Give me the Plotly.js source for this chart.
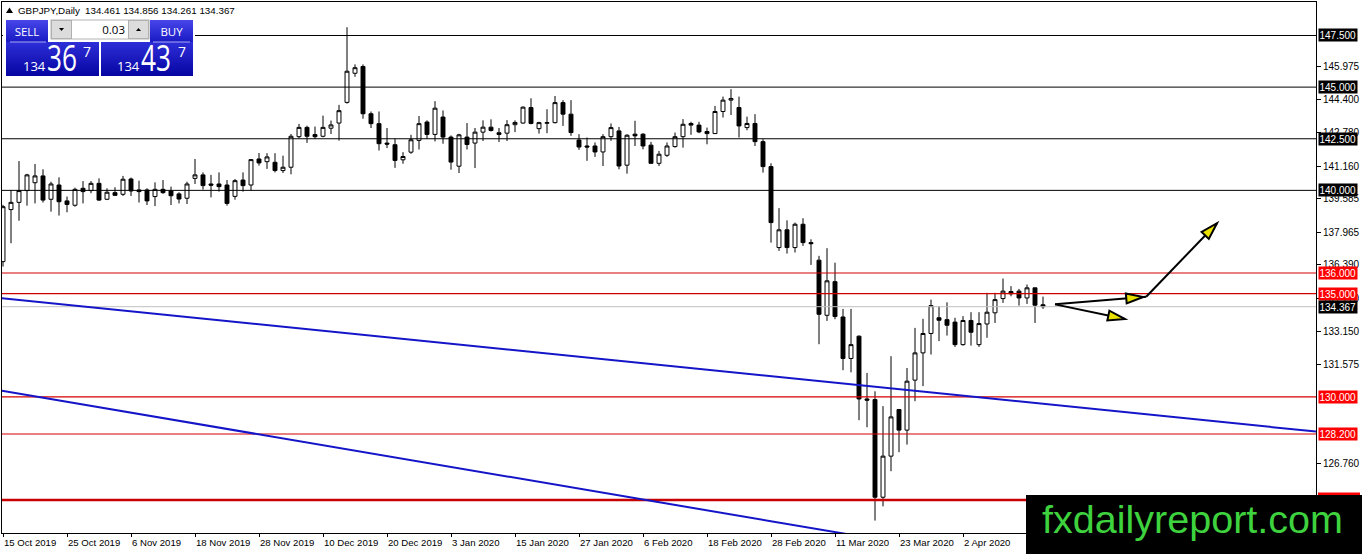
<!DOCTYPE html>
<html>
<head>
<meta charset="utf-8">
<script src="https://cdn.plot.ly/plotly-3.0.1.min.js"></script>
<style>
html,body{margin:0;padding:0;background:#fff;}
#wrap{position:relative;width:1362px;height:554px;overflow:hidden;}
#chart{position:absolute;left:0;top:0;width:1362px;height:554px;}
#over{position:absolute;left:0;top:0;pointer-events:none;}
</style>
</head>
<body>
<div id="wrap">
<div id="chart"></div>
<svg id="over" width="1362" height="554" xmlns="http://www.w3.org/2000/svg">
  <defs>
    <linearGradient id="blueBtn" x1="0" y1="0" x2="0" y2="1">
      <stop offset="0" stop-color="#4646ea"/>
      <stop offset="1" stop-color="#1a1ac4"/>
    </linearGradient>
    <linearGradient id="bluePanel" x1="0" y1="0" x2="0" y2="1">
      <stop offset="0" stop-color="#2e2ed8"/>
      <stop offset="1" stop-color="#0505a2"/>
    </linearGradient>
  </defs>
  <!-- header -->
  <rect x="3" y="3" width="240" height="15" fill="#fff"/>
  <polygon points="6,13 9.5,7.5 13,13" fill="#000"/>
  <text x="18" y="14" font-family="Liberation Sans, Arial, sans-serif" font-size="9.8" fill="#000">GBPJPY,Daily</text>
  <text x="85" y="14" font-family="Liberation Sans, Arial, sans-serif" font-size="9.8" fill="#000">134.461 134.856 134.261 134.367</text>
  <!-- trade widget -->
  <rect x="3" y="18" width="192" height="60" fill="#fff"/>
  <rect x="6" y="20" width="42" height="22" fill="url(#blueBtn)"/>
  <text x="27" y="35.5" text-anchor="middle" font-family="Open Sans, sans-serif" font-size="11.5" fill="#fff">SELL</text>
  <rect x="51" y="20" width="98" height="19" fill="#fff" stroke="#b4b4b4" stroke-width="1"/>
  <rect x="51.5" y="20.5" width="20" height="18" fill="#dcdcdc" stroke="#b0b0b0" stroke-width="1"/>
  <polygon points="59,28 64,28 61.5,31" fill="#000"/>
  <text x="125" y="34" text-anchor="end" font-family="Open Sans, sans-serif" font-size="11.5" fill="#000">0.03</text>
  <rect x="128.5" y="20.5" width="20" height="18" fill="#dcdcdc" stroke="#b0b0b0" stroke-width="1"/>
  <polygon points="136,31 141,31 138.5,28" fill="#000"/>
  <rect x="150" y="20" width="43" height="22" fill="url(#blueBtn)"/>
  <text x="171.5" y="35.5" text-anchor="middle" font-family="Open Sans, sans-serif" font-size="11.5" fill="#fff">BUY</text>
  <rect x="6" y="42" width="93" height="34" fill="url(#bluePanel)"/>
  <rect x="101" y="42" width="92" height="34" fill="url(#bluePanel)"/>
  <line x1="10" y1="42" x2="46" y2="42" stroke="#a8a8f4" stroke-width="1"/>
  <line x1="153" y1="42" x2="190" y2="42" stroke="#a8a8f4" stroke-width="1"/>
  <text x="23" y="71" font-family="Open Sans, sans-serif" font-size="13" fill="#fff">134</text>
  <text transform="translate(47,71) scale(0.71,1)" x="0" y="0" font-family="Open Sans, sans-serif" font-size="37" fill="#fff">36</text>
  <text x="83" y="57" font-family="Open Sans, sans-serif" font-size="14" fill="#fff">7</text>
  <text x="117" y="71" font-family="Open Sans, sans-serif" font-size="13" fill="#fff">134</text>
  <text transform="translate(141,71) scale(0.71,1)" x="0" y="0" font-family="Open Sans, sans-serif" font-size="37" fill="#fff">43</text>
  <text x="178" y="57" font-family="Open Sans, sans-serif" font-size="14" fill="#fff">7</text>
  <!-- 125.000 price label, almost fully hidden behind the watermark -->
  <rect x="1318" y="492.5" width="42" height="4" fill="#f00"/>
  <!-- watermark -->
  <rect x="1026" y="495" width="336" height="59" fill="#000"/>
  <text x="1042" y="533" font-family="Liberation Sans, Arial, sans-serif" font-size="39.5" fill="#3ed23e" textLength="301" lengthAdjust="spacingAndGlyphs">fxdailyreport.com</text>
</svg>
</div>
<script>
// ---- data (bar index = trading day from 15 Oct 2019) ----
const openP = [136.55,139.07,139.42,139.99,140.37,140.70,139.57,140.26,139.49,139.28,
140.10,139.99,140.34,139.57,139.89,139.81,140.55,140.02,140.02,139.70,
140.05,139.97,139.83,139.62,140.58,140.75,140.31,140.31,140.26,139.71,
140.50,140.26,141.52,141.39,141.36,140.96,141.12,142.60,143.05,142.70,
142.62,143.01,143.26,144.26,145.67,146.00,143.71,143.23,142.29,142.21,
141.48,141.85,142.42,143.31,142.71,143.55,142.58,141.17,142.58,142.29,
142.82,143.06,142.79,142.77,143.18,143.26,144.01,142.99,143.25,143.28,
144.25,143.69,142.44,142.15,142.15,141.86,142.60,142.88,141.22,142.72,
142.72,142.19,141.31,141.70,142.12,142.60,143.24,143.16,142.85,142.75,
143.82,144.37,144.01,143.04,143.24,142.36,141.15,137.23,138.09,137.23,
138.36,137.47,136.62,133.95,135.58,133.87,131.86,132.94,129.90,129.87,
125.14,127.13,129.39,128.39,130.81,132.13,133.07,133.83,133.74,133.62,
132.53,133.70,132.53,133.53,134.07,134.76,135.10,135.12,134.79,135.28,
134.461];
const highP = [139.30,140.02,141.42,140.80,141.28,141.02,140.42,140.63,139.70,140.13,
140.45,140.45,140.58,140.10,140.15,140.70,140.62,140.47,140.10,140.39,
140.50,140.18,139.91,140.42,141.52,140.87,140.75,140.87,140.50,140.55,
140.87,141.52,141.81,141.80,141.80,141.68,142.73,143.22,143.13,143.09,
143.62,143.38,144.14,147.90,146.10,146.10,143.82,143.82,143.02,142.50,
141.85,142.69,143.60,143.39,144.32,143.87,142.66,142.74,143.26,143.02,
143.39,143.44,143.02,143.40,143.39,144.06,144.46,143.32,143.93,144.57,
144.37,144.37,142.72,142.56,142.32,142.72,143.24,143.07,142.72,143.37,
142.77,142.35,141.91,142.32,142.80,143.45,143.32,143.32,143.04,144.09,
144.54,144.90,144.54,143.57,143.69,142.48,141.31,139.14,138.55,138.44,
138.65,137.63,136.83,137.20,136.50,134.26,134.26,132.97,131.16,130.27,
129.55,131.97,129.39,131.40,133.34,133.78,134.71,134.39,134.58,133.83,
133.91,134.10,134.10,135.04,135.04,135.73,135.36,135.23,135.44,135.28,
134.856];
const lowP = [136.31,137.44,138.53,139.26,139.37,139.41,138.97,138.78,138.94,139.21,
139.37,139.86,139.49,139.53,139.73,139.73,139.73,139.41,139.29,139.24,
139.83,139.29,139.37,139.34,140.31,140.04,139.66,139.94,139.26,139.55,
139.94,139.99,141.20,141.04,140.87,140.84,140.78,142.52,142.30,142.49,
142.57,142.73,142.41,144.20,145.50,143.47,143.02,141.93,142.05,141.09,
141.29,141.77,141.98,142.50,142.37,142.26,141.00,140.84,141.98,141.08,
142.39,142.85,142.34,142.39,142.82,143.23,143.20,142.75,142.77,143.24,
143.12,142.64,141.96,141.43,141.62,141.18,142.40,141.02,140.81,142.15,
141.99,141.30,141.18,141.62,142.07,142.07,142.69,142.77,142.23,142.75,
143.53,143.65,142.56,142.91,142.15,140.86,137.47,137.07,136.94,136.99,
137.31,136.39,132.55,133.68,133.76,131.29,131.19,128.87,128.53,124.01,
124.70,126.40,127.32,127.69,129.79,130.52,132.05,132.70,132.97,132.42,
132.48,132.48,132.42,132.86,133.58,134.55,134.87,134.42,134.50,133.58,
134.261];
const closeP = [139.21,139.42,139.99,140.75,140.70,139.53,140.31,139.45,139.32,140.05,
139.94,140.34,139.53,139.91,139.76,140.54,139.97,139.94,139.49,140.05,
139.89,139.74,139.58,140.31,140.75,140.23,140.25,140.18,139.37,140.47,
140.23,141.49,141.33,141.62,140.96,141.12,142.62,143.05,142.62,142.60,
143.05,143.17,143.86,145.77,145.94,143.71,143.23,142.26,142.24,141.45,
141.64,142.45,143.23,142.71,143.98,142.58,141.37,142.69,142.22,142.82,
143.06,142.90,142.71,143.18,143.29,144.03,143.24,143.28,143.28,144.25,
143.69,142.80,142.10,142.10,141.86,142.60,143.04,141.18,142.67,142.64,
142.15,141.31,141.75,142.15,142.60,143.20,143.16,142.83,142.75,143.82,
144.37,144.45,143.12,143.24,142.36,141.15,138.44,138.09,137.23,138.36,
137.47,137.42,134.00,135.62,133.89,131.86,132.53,129.90,129.84,125.14,
127.13,129.03,128.39,130.76,132.13,133.07,134.42,133.71,133.47,132.53,
133.70,133.13,133.55,134.10,134.71,135.12,134.99,134.79,135.28,134.44,
134.367];

const dateLabels = ['15 Oct 2019','25 Oct 2019','6 Nov 2019','18 Nov 2019','28 Nov 2019',
  '10 Dec 2019','20 Dec 2019','3 Jan 2020','15 Jan 2020','27 Jan 2020','6 Feb 2020',
  '18 Feb 2020','28 Feb 2020','11 Mar 2020','23 Mar 2020','2 Apr 2020'];
const barsPerLabel = 8;

const priceTicks = [145.975,144.400,142.780,141.160,139.585,137.965,136.390,134.770,
  133.150,131.575,126.760];

const blackLevels = [147.5, 145.0, 142.5, 140.0];
const redLevels = [136.0, 135.0, 130.0, 128.2];
const supportLevel = 125.0;
const bidPrice = 134.367;

// trend lines [bar0, price0, bar1, price1]
const trendLines = [[-0.375, 134.79, 164.125, 128.32], [-0.375, 130.31, 110.0, 123.06]];
// analyst arrows [barFrom, priceFrom, barTo, priceTo, tipBackoffPx]
const arrows = [[131.5, 134.48, 142.9, 134.85, 3], [142.9, 134.85, 151.75, 138.41, 0], [131.5, 134.48, 140.25, 133.77, 0]];

// ---- chart ----
const xr = [-0.125, 164.125];
const yr = [123.408, 149.122];
const W = 1362, H = 554, M = {l:2, r:46, t:2, b:21};
const pw = W - M.l - M.r, ph = H - M.t - M.b;
const toPx = (x, y) => [(x - xr[0]) / (xr[1] - xr[0]) * pw, (yr[1] - y) / (yr[1] - yr[0]) * ph];
const toData = (px, py) => [xr[0] + px / pw * (xr[1] - xr[0]), yr[1] - py / ph * (yr[1] - yr[0])];

const bars = openP.map((_, i) => i);
const tickvals = dateLabels.map((_, k) => k * barsPerLabel);

const shapes = [];
const font = 'Liberation Sans, Arial, sans-serif';
blackLevels.forEach(v => shapes.push({type:'line', xref:'paper', x0:0, x1:1, yref:'y', y0:v, y1:v, line:{color:'#000', width:1}, layer:'above'}));
redLevels.forEach(v => shapes.push({type:'line', xref:'paper', x0:0, x1:1, yref:'y', y0:v, y1:v, line:{color:'#d40000', width:1.1}, layer:'above'}));
shapes.push({type:'line', xref:'paper', x0:0, x1:1, yref:'y', y0:supportLevel, y1:supportLevel, line:{color:'#c80000', width:2.5}, layer:'above'});
shapes.push({type:'line', xref:'paper', x0:0, x1:1, yref:'y', y0:bidPrice, y1:bidPrice, line:{color:'#c0c0c0', width:1}, layer:'above'});
trendLines.forEach(t => shapes.push({type:'line', xref:'x', yref:'y', x0:t[0], y0:t[1], x1:t[2], y1:t[3], line:{color:'#1414c8', width:2}, layer:'above'}));

arrows.forEach(a => {
  shapes.push({type:'line', xref:'x', yref:'y', x0:a[0], y0:a[1], x1:a[2], y1:a[3], line:{color:'#000', width:2}, layer:'above'});
});
arrows.forEach(a => {
  const p0 = toPx(a[0], a[1]), p1 = toPx(a[2], a[3]);
  const dx = p1[0] - p0[0], dy = p1[1] - p0[1];
  const len = Math.hypot(dx, dy);
  const ux = dx / len, uy = dy / len, nx = -uy, ny = ux;
  const tip = [p1[0] - ux * a[4], p1[1] - uy * a[4]];
  const L = 17, w = 5;
  const bc = [tip[0] - ux * L, tip[1] - uy * L];
  const pts = [tip, [bc[0] + nx * w, bc[1] + ny * w], [bc[0] - nx * w, bc[1] - ny * w]].map(p => toData(p[0], p[1]));
  const path = 'M' + pts.map(p => p[0] + ',' + p[1]).join(' L') + ' Z';
  shapes.push({type:'path', xref:'x', yref:'y', path:path, fillcolor:'#e8e000', line:{color:'#000', width:2}, layer:'above'});
});

const annotations = [];
const boxLabel = (v, bg) => annotations.push({xref:'paper', x:1, xanchor:'left', xshift:2, yref:'y', y:v, yanchor:'middle',
  text:v.toFixed(3), showarrow:false, bgcolor:bg, borderpad:0.5, font:{family:font, size:10, color:'#fff'}});
blackLevels.forEach(v => boxLabel(v, '#000'));
redLevels.forEach(v => boxLabel(v, '#f00'));
boxLabel(bidPrice, '#000');

const trace = {
  type:'candlestick', x:bars, open:openP, high:highP, low:lowP, close:closeP,
  increasing:{line:{color:'#000', width:1}, fillcolor:'#fff'},
  decreasing:{line:{color:'#000', width:1}, fillcolor:'#000'},
  whiskerwidth:0, showlegend:false, hoverinfo:'skip'
};

const layout = {
  width:W, height:H, margin:{l:M.l, r:M.r, t:M.t, b:M.b, pad:0},
  paper_bgcolor:'#fff', plot_bgcolor:'#fff', showlegend:false,
  font:{family:font, size:10, color:'#000'},
  xaxis:{type:'linear', range:xr, tickvals:tickvals, ticktext:dateLabels, ticks:'outside', ticklen:3, tickcolor:'#000',
    ticklabelposition:'outside right', showline:true, mirror:true, linecolor:'#000', linewidth:1,
    showgrid:false, zeroline:false, rangeslider:{visible:false}, fixedrange:true,
    tickfont:{family:font, size:9.6, color:'#000'}},
  yaxis:{side:'right', range:yr, tickvals:priceTicks, ticktext:priceTicks.map(v => v.toFixed(3)), ticks:'outside', ticklen:4,
    tickcolor:'#000', showline:true, mirror:true, linecolor:'#000', linewidth:1, showgrid:false, zeroline:false,
    fixedrange:true, tickfont:{family:font, size:10, color:'#000'}},
  shapes:shapes, annotations:annotations
};

Plotly.newPlot('chart', [trace], layout, {staticPlot:true, displayModeBar:false});
</script>
</body>
</html>
